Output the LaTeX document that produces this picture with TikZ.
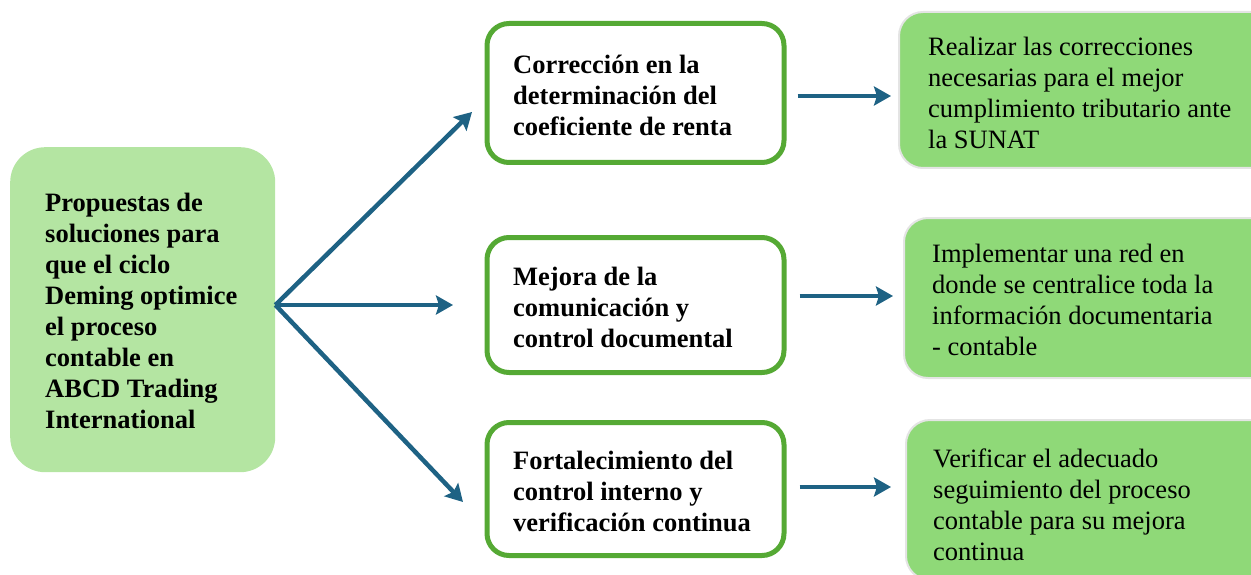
\documentclass[tikz,border=0pt]{standalone}
\usepackage{fontspec}
\setmainfont{Liberation Serif}
\usetikzlibrary{arrows.meta,calc}
\definecolor{arrcol}{HTML}{1E6284}
\definecolor{lfill}{HTML}{B4E5A2}
\definecolor{mborder}{HTML}{55A934}
\definecolor{rfill}{HTML}{8FD978}
\definecolor{rborder}{HTML}{E4E4E4}
\tikzset{
  lbox/.style={fill=lfill, rounded corners=35pt, minimum width=265pt, minimum height=325pt, inner sep=0pt, anchor=north west},
  mbox/.style={draw=mborder, line width=5pt, fill=white, rounded corners=22pt, minimum width=297pt, inner sep=0pt, anchor=west},
  rbox/.style={draw=rborder, line width=2pt, fill=rfill, rounded corners=24pt, minimum width=380pt, inner sep=0pt, anchor=west},
  btxt/.style={font=\fontsize{26.5}{31}\selectfont\bfseries, align=left, inner sep=0pt, anchor=west},
  rtxt/.style={font=\fontsize{26.5}{31}\selectfont, align=left, inner sep=0pt, anchor=west},
  arr/.style={draw=arrcol, line width=4.5pt, -{Stealth[length=17pt,width=19pt,inset=3pt]}}
}
\begin{document}
\begin{tikzpicture}[x=1pt,y=-1pt]
\useasboundingbox (0,0) rectangle (1251,575);
\clip (0,0) rectangle (1251,575);
% left box
\node[lbox] (L) at (10,147) {};
\node[btxt] (Lt) at ($(L.west)+(35,1)$) {Propuestas de\\soluciones para\\que el ciclo\\Deming optimice\\el proceso\\contable en\\ABCD Trading\\International};
% middle boxes
\node[mbox, minimum height=139pt] (b1) at (484.5,93) {};
\node[btxt] (b1t) at ($(b1.west)+(28.5,2)$) {Correcci\'on en la\\determinaci\'on del\\coeficiente de renta};
\node[mbox, minimum height=135pt] (b2) at (484.5,305) {};
\node[btxt] (b2t) at ($(b2.west)+(28.5,2)$) {Mejora de la\\comunicaci\'on y\\control documental};
\node[mbox, minimum height=133pt] (b3) at (484.5,489) {};
\node[btxt] (b3t) at ($(b3.west)+(28.5,2)$) {Fortalecimiento del\\control interno y\\verificaci\'on continua};
% right boxes
\node[rbox, minimum height=156pt] (r1) at (898,90) {};
\node[rtxt] (r1t) at ($(r1.west)+(30,3)$) {Realizar las correcciones\\necesarias para el mejor\\cumplimiento tributario ante\\la SUNAT};
\node[rbox, minimum height=160pt] (r2) at (903,298) {};
\node[rtxt] (r2t) at ($(r2.west)+(29,2)$) {Implementar una red en\\donde se centralice toda la\\informaci\'on documentaria\\- contable};
\node[rbox, minimum height=160pt] (r3) at (905,500) {};
\node[rtxt] (r3t) at ($(r3.west)+(28,5)$) {Verificar el adecuado\\seguimiento del proceso\\contable para su mejora\\continua};
% arrows
\coordinate (o) at (L.east |- 0,305);
\coordinate (t1) at (472,112);
\coordinate (t2) at (453,305);
\coordinate (t3) at (463,502);
\draw[arr] (o) -- (t1);
\draw[arr] (o) -- (t2);
\draw[arr] (o) -- (t3);
\draw[arr] ($(b1.east)+(11,3)$) -- ($(r1.west |- b1.east)+(-7,3)$);
\draw[arr] ($(b2.east)+(13,-9)$) -- ($(r2.west |- b2.east)+(-10,-9)$);
\draw[arr] ($(b3.east)+(13,-2)$) -- ($(r3.west |- b3.east)+(-14,-2)$);
\end{tikzpicture}
\end{document}
